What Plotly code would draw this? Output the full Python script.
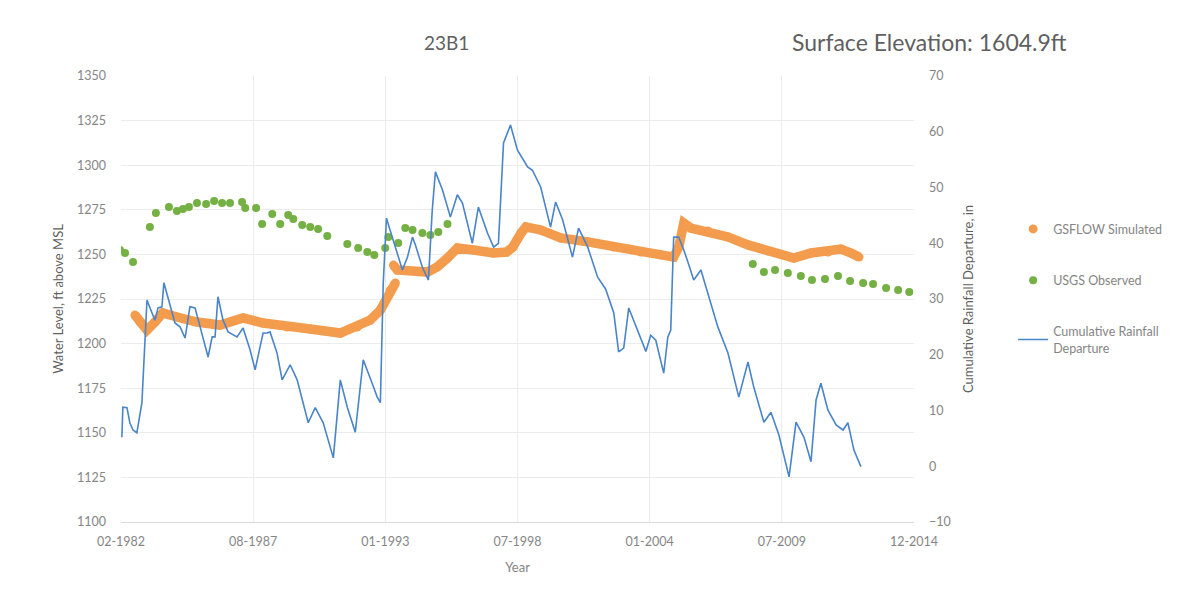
import numpy as np
import pandas as pd
import plotly.graph_objects as go

# ---- data -------------------------------------------------------------
# USGS observed water level (decimal year, ft above MSL)
obs_year = [1982.08, 1982.29, 1982.62, 1983.32, 1983.57, 1984.11, 1984.44, 1984.69,
            1984.94, 1985.27, 1985.65, 1985.98, 1986.31, 1986.64, 1987.14, 1987.27,
            1987.72, 1987.97, 1988.39, 1988.72, 1989.05, 1989.26, 1989.63, 1989.96,
            1990.29, 1990.67, 1991.50, 1991.95, 1992.33, 1992.62, 1993.07, 1993.20,
            1993.61, 1993.90, 1994.20, 1994.61, 1994.94, 1995.27, 1995.65,
            2008.30, 2008.76, 2009.22, 2009.75, 2010.29, 2010.75, 2011.29, 2011.83,
            2012.33, 2012.87, 2013.28, 2013.82, 2014.32, 2014.78]
obs_level = [1252.5, 1250.8, 1245.7, 1265.4, 1273.2, 1276.6, 1274.3, 1275.4,
             1276.6, 1278.8, 1278.3, 1280.0, 1278.8, 1278.8, 1279.4, 1276.0,
             1276.0, 1267.0, 1272.6, 1267.0, 1272.1, 1269.8, 1266.5, 1265.4,
             1264.2, 1260.3, 1255.8, 1253.6, 1251.3, 1249.7, 1253.6, 1259.8,
             1256.4, 1264.8, 1263.7, 1262.0, 1260.9, 1262.6, 1267.0,
             1244.6, 1240.1, 1241.3, 1239.6, 1237.9, 1235.7, 1236.2, 1237.9,
             1235.1, 1234.0, 1233.4, 1231.2, 1230.0, 1228.9]

# GSFLOW simulated water level (None marks the break in the record)
sim_year = [1982.70, 1982.91, 1983.20, 1983.53, 1983.86, 1984.44, 1985.27, 1986.23,
            1987.18, 1988.01, 1989.01, 1989.96, 1991.21, 1991.91, 1992.45, 1992.87,
            1993.28, 1993.49, 1993.45,
            1993.41, 1993.57, 1994.82, 1995.23, 1995.65, 1996.06, 1996.73, 1997.56,
            1998.10, 1998.35, 1998.70, 1998.90, 1999.51, 2000.34, 2001.46, 2002.54,
            2003.66, 2004.49, 2005.02, 2005.23, 2005.44, 2005.73, 2006.44, 2007.27,
            2008.10, 2008.93, 2010.00, 2010.71, 2011.41, 2011.95, 2012.37, 2012.70]
sim_level = [1216.0, 1212.1, 1207.6, 1212.1, 1217.2, 1214.9, 1212.1, 1210.4,
             1214.4, 1211.5, 1209.3, 1208.2, 1205.9, 1209.3, 1213.2, 1218.8,
             1230.0, 1234.0, None,
             1244.0, 1241.3, 1240.1, 1243.0, 1248.0, 1253.6, 1252.5, 1250.8,
             1251.3, 1254.0, 1262.0, 1265.4, 1263.7, 1259.2, 1257.0, 1254.1,
             1251.3, 1249.7, 1248.5, 1254.1, 1267.6, 1264.8, 1263.1, 1259.8,
             1255.3, 1251.9, 1248.0, 1250.8, 1251.3, 1253.0, 1250.8, 1248.5]

# Cumulative rainfall departure (decimal year, inches)
rain_year = [1982.16, 1982.20, 1982.37, 1982.49, 1982.62, 1982.78, 1982.99, 1983.20,
             1983.41, 1983.53, 1983.66, 1983.82, 1983.90, 1984.07, 1984.36, 1984.57,
             1984.78, 1984.98, 1985.19, 1985.40, 1985.73, 1985.90, 1986.02, 1986.14,
             1986.35, 1986.56, 1986.93, 1987.18, 1987.47, 1987.68, 1988.01, 1988.18,
             1988.30, 1988.59, 1988.80, 1989.13, 1989.42, 1989.88, 1990.17, 1990.50,
             1990.92, 1991.21, 1991.50, 1991.83, 1992.16, 1992.53, 1992.74, 1992.87,
             1992.99, 1993.12, 1993.28, 1993.49, 1993.78, 1993.99, 1994.20, 1994.32,
             1994.61, 1994.86, 1995.02, 1995.15, 1995.44, 1995.77, 1996.06, 1996.27,
             1996.68, 1996.93, 1997.31, 1997.56, 1997.76, 1997.97, 1998.26, 1998.55,
             1998.97, 1999.17, 1999.51, 1999.92, 2000.13, 2000.42, 2000.83, 2001.08,
             2001.46, 2001.87, 2002.20, 2002.54, 2002.74, 2002.95, 2003.16, 2003.53,
             2003.87, 2004.07, 2004.28, 2004.61, 2004.78, 2004.90, 2005.02, 2005.23,
             2005.44, 2005.65, 2005.85, 2006.15, 2006.44, 2006.85, 2007.27, 2007.72,
             2008.10, 2008.34, 2008.76, 2009.05, 2009.38, 2009.80, 2010.09, 2010.42,
             2010.71, 2010.92, 2011.12, 2011.41, 2011.75, 2012.04, 2012.24, 2012.49,
             2012.78]
rain_dep = [5.2, 10.6, 10.5, 7.8, 6.5, 6.0, 11.4, 29.8,
            27.5, 26.2, 28.4, 28.6, 32.9, 30.4, 25.7, 25.0,
            23.0, 28.6, 28.4, 25.0, 19.6, 23.2, 23.2, 30.4,
            26.2, 24.1, 23.2, 24.8, 20.9, 17.3, 23.9, 23.9,
            24.1, 20.3, 15.5, 18.2, 15.5, 7.8, 10.5, 7.8,
            1.5, 15.5, 10.6, 6.1, 19.1, 14.9, 12.4, 11.4,
            32.9, 44.5, 42.4, 39.3, 35.2, 37.5, 41.1, 39.7,
            35.7, 33.4, 46.0, 52.8, 49.6, 44.7, 48.7, 47.2,
            40.0, 46.5, 41.8, 39.3, 40.0, 58.0, 61.2, 56.7,
            53.7, 53.1, 50.1, 42.9, 47.4, 44.2, 37.5, 42.7,
            39.3, 33.9, 31.8, 27.5, 20.5, 21.2, 28.4, 24.4,
            20.6, 23.5, 22.6, 16.7, 23.2, 24.4, 41.1, 41.1,
            38.8, 36.1, 33.4, 35.2, 31.1, 25.0, 20.3, 12.4,
            18.7, 14.2, 7.9, 9.7, 5.6, -1.9, 7.9, 5.2,
            0.8, 11.9, 14.9, 10.1, 7.4, 6.5, 7.8, 2.9,
            -0.1]

tick_labels = ["02-1982", "08-1987", "01-1993", "07-1998", "01-2004", "07-2009", "12-2014"]
left_ticks = [1100, 1125, 1150, 1175, 1200, 1225, 1250, 1275, 1300, 1325, 1350]
right_ticks = [-10, 0, 10, 20, 30, 40, 50, 60, 70]


def to_date(years):
    out = []
    for y in years:
        yr = int(np.floor(y))
        start = pd.Timestamp(year=yr, month=1, day=1)
        out.append(start + pd.Timedelta(days=(y - yr) * 365.25))
    return out


# Excel-style date axis: ticks every 2000 days
axis_start = pd.Timestamp("1982-02-15")
tick_pos = [axis_start + pd.Timedelta(days=2000 * i) for i in range(len(tick_labels))]

GREEN = "#74b043"
ORANGE = "#f49c4e"
BLUE = "#4a84c9"
TXT = "#858585"
FONT = "Lato, 'Open Sans', sans-serif"

fig = go.Figure()

fig.add_trace(go.Scatter(
    x=to_date(sim_year), y=sim_level, mode="lines",
    line=dict(color=ORANGE, width=9.5), connectgaps=False,
    legendgroup="sim", showlegend=False, hoverinfo="skip"))
fig.add_trace(go.Scatter(
    x=to_date(sim_year), y=sim_level, mode="markers", name="GSFLOW Simulated",
    marker=dict(color=ORANGE, size=9), legendgroup="sim"))
fig.add_trace(go.Scatter(
    x=to_date(obs_year), y=obs_level, mode="markers", name="USGS Observed",
    marker=dict(color=GREEN, size=8), legendgroup="obs"))
fig.add_trace(go.Scatter(
    x=to_date(rain_year), y=rain_dep, mode="lines",
    name="Cumulative Rainfall<br>Departure",
    line=dict(color=BLUE, width=1.6), yaxis="y2", legendgroup="rain"))

fig.update_layout(
    width=1194, height=601,
    margin=dict(l=121, r=280, t=76, b=79),
    paper_bgcolor="white", plot_bgcolor="white",
    font=dict(family=FONT, color=TXT, size=12),
    showlegend=True,
    legend=dict(x=1.125, y=0.69, xanchor="left", yanchor="top",
                font=dict(size=12.5, color=TXT), tracegroupgap=32,
                bgcolor="rgba(0,0,0,0)"),
    xaxis=dict(
        type="date",
        range=[axis_start, tick_pos[-1]],
        tickvals=tick_pos, ticktext=tick_labels,
        showgrid=True, gridcolor="#ececec", gridwidth=1,
        showline=True, linecolor="#dcdcdc", linewidth=1,
        ticks="", ticklabelstandoff=8, tickfont=dict(size=12.5, color=TXT),
        title=dict(text="Year", font=dict(size=13, color=TXT), standoff=14),
        zeroline=False),
    yaxis=dict(
        range=[1100, 1350], tickvals=left_ticks,
        showgrid=True, gridcolor="#ececec", gridwidth=1,
        showline=False, ticks="", zeroline=False, ticklabelstandoff=14,
        tickfont=dict(size=12.5, color=TXT),
        title=dict(text="Water Level, ft above MSL",
                   font=dict(size=13, color="#5f5f5f"), standoff=10)),
    yaxis2=dict(
        range=[-10, 70], tickvals=right_ticks,
        overlaying="y", side="right",
        showgrid=False, showline=False, ticks="", zeroline=False,
        ticklabelstandoff=14,
        tickfont=dict(size=12.5, color=TXT),
        title=dict(text="Cumulative Rainfall Departure, in",
                   font=dict(size=13, color="#5f5f5f"), standoff=14)),
    annotations=[
        dict(text="23B1", x=0.411, y=1.076, xref="paper", yref="paper",
             xanchor="center", yanchor="middle", showarrow=False,
             font=dict(size=19, color="#5f5f5f", family=FONT)),
        dict(text="Surface Elevation: 1604.9ft", x=1.02, y=1.076,
             xref="paper", yref="paper", xanchor="center", yanchor="middle",
             showarrow=False, font=dict(size=23, color="#5f5f5f", family=FONT)),
    ],
)

fig.write_html("out.html")
